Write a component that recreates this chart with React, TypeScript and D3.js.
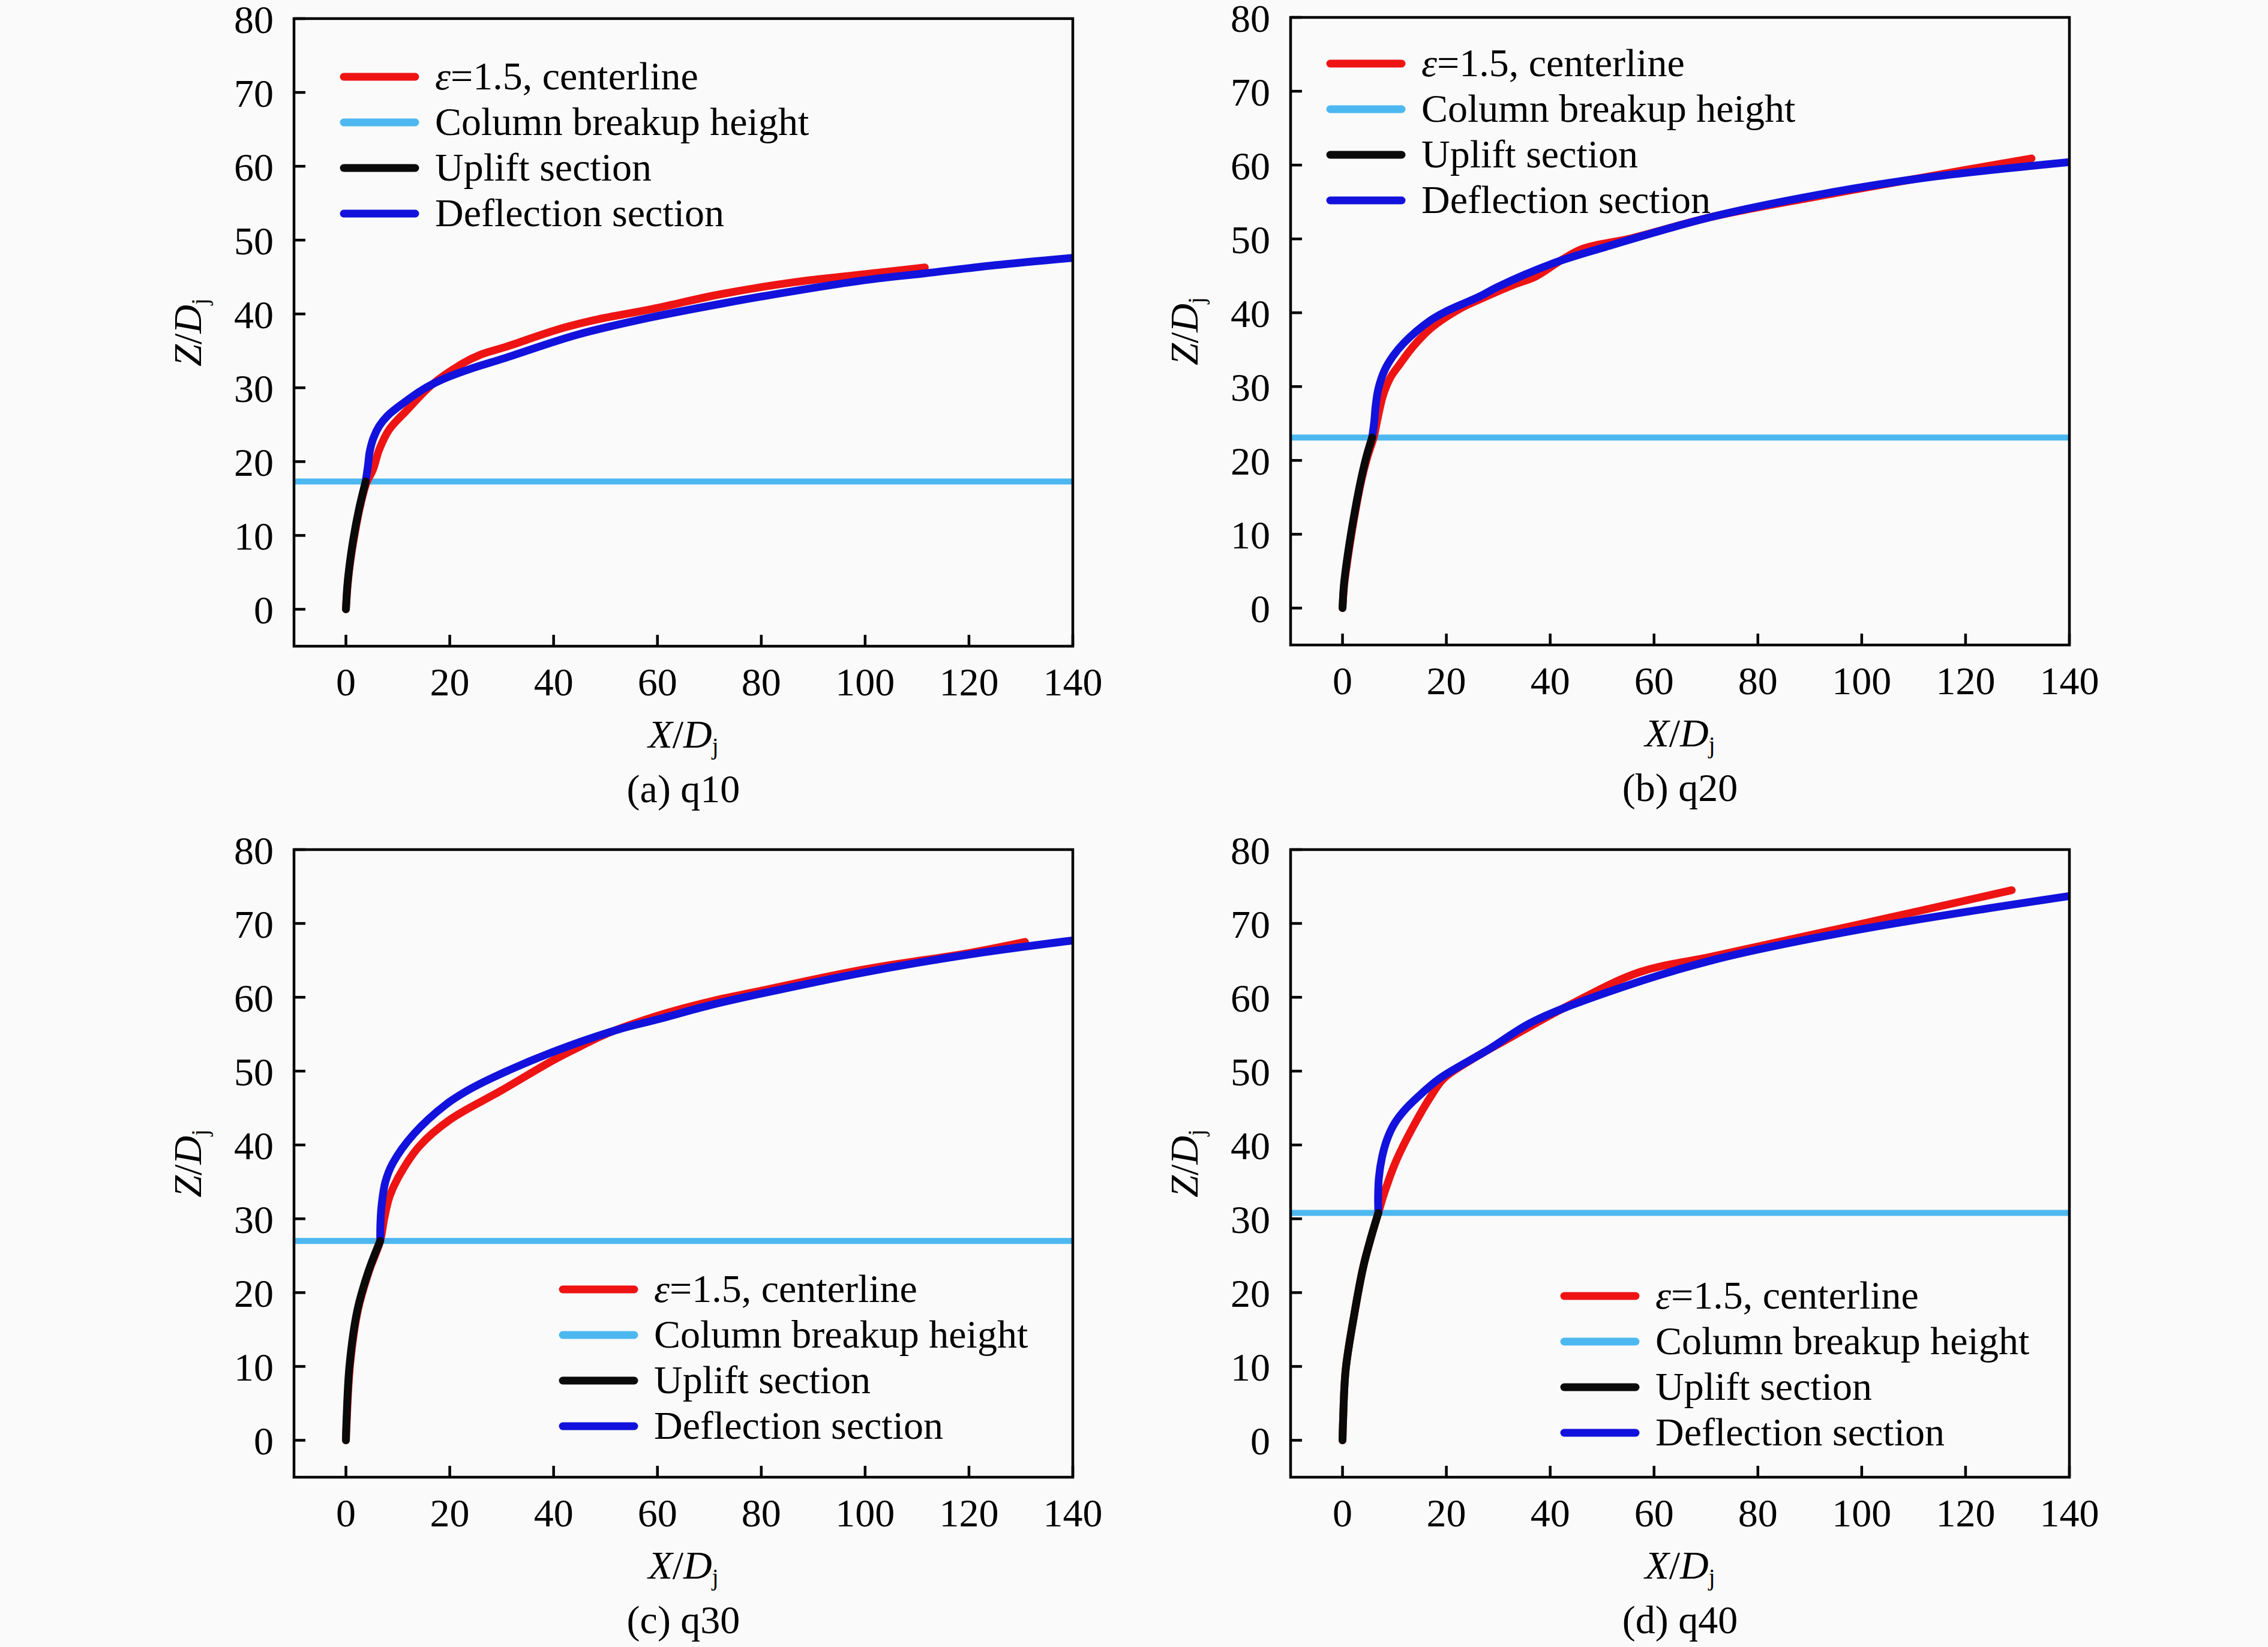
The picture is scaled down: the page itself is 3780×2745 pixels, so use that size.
import React, { useEffect } from 'react';
import * as d3 from 'd3';

// Axis ticks
const xTicks = [0, 20, 40, 60, 80, 100, 120, 140];
const yTicks = [0, 10, 20, 30, 40, 50, 60, 70, 80];

const captions = ['(a) q10', '(b) q20', '(c) q30', '(d) q40'];
const breakupHeights = [17.3, 23.1, 27.0, 30.8];

// q10 trajectories [X/Dj, Z/Dj]
const upliftQ10: [number, number][] = [
  [0, 0], [0.25, 3], [0.6, 5.4], [1.4, 9.4], [2.5, 13.5], [3.8, 17.3],
];
const centerlineQ10: [number, number][] = [
  [0, 0], [0.3, 3], [0.75, 6], [1.5, 9.4], [2.6, 13.5], [3.9, 17.0], [5.2, 18.9],
  [6.4, 21.6], [8.3, 24.3], [11.8, 27.0], [16.7, 30.5], [22.5, 33.3], [26, 34.5], [30.6, 35.5],
  [41.8, 38.1], [48.7, 39.3], [58.5, 40.6], [72.4, 42.7], [86.3, 44.3], [100.2, 45.4], [111.5, 46.3],
];
const deflectionQ10: [number, number][] = [
  [3.8, 17.3], [4.2, 19.2], [4.6, 21.4], [5.3, 23.2], [6.4, 24.8], [8.0, 26.2], [11, 27.9],
  [14.9, 29.8], [18.8, 31.2], [23.7, 32.5], [30.5, 34.0], [44.6, 37.2], [58.5, 39.5],
  [72.4, 41.4], [86.3, 43.1], [100.2, 44.6], [111.5, 45.5], [125, 46.6], [140, 47.6],
];

// q20
const upliftQ20: [number, number][] = [
  [0, 0], [0.25, 3], [0.8, 6.2], [2.0, 11.6], [3.5, 17.2], [4.6, 20.5], [5.7, 23.1],
];
const centerlineQ20: [number, number][] = [
  [0, 0], [0.3, 3], [0.9, 6.2], [2.1, 11.6], [3.6, 17.2], [4.8, 20.5], [6.0, 23.1],
  [6.8, 25.8], [7.8, 28.8], [9.2, 31.2], [11.0, 33.0], [13.7, 35.5], [17.2, 38.0], [22.5, 40.5],
  [26.4, 41.8], [33.0, 43.8], [37.2, 44.9], [42.3, 47.2], [46.4, 48.7], [55.7, 50.1],
  [71.2, 53.0], [91.8, 55.8], [112.4, 58.4], [132.7, 60.9],
];
const deflectionQ20: [number, number][] = [
  [5.7, 23.1], [6.1, 25.2], [6.4, 27.5], [6.9, 29.7], [8.1, 32.2], [9.8, 34.2], [11.8, 35.9],
  [16.8, 38.9], [20, 40.2], [26.4, 42.2], [29.9, 43.5], [40.2, 46.6], [50.6, 48.9],
  [71.2, 53.0], [91.8, 56.0], [112.4, 58.3], [140, 60.4],
];

// q30
const upliftQ30: [number, number][] = [
  [0, 0], [0.1, 2.5], [0.7, 10.2], [2.2, 17.6], [4.3, 22.8], [6.6, 27.0],
];
const centerlineQ30: [number, number][] = [
  [0, 0], [0.15, 2.5], [0.8, 10.2], [2.3, 17.6], [4.4, 22.8], [6.6, 27], [7.4, 30.1],
  [8.4, 33.0], [10.0, 35.5], [14.1, 39.8], [20, 43.4], [30, 47.4], [40, 51.5], [45, 53.3],
  [50, 55.0], [60, 57.5], [70, 59.4], [80, 60.9], [100, 63.8], [120, 66.0], [130.8, 67.5],
];
const deflectionQ30: [number, number][] = [
  [6.6, 27.0], [6.65, 29.5], [6.9, 32], [7.6, 35], [9.0, 37.5], [13.1, 41.5], [19.3, 45.5],
  [24, 47.6], [28.5, 49.2], [39.9, 52.6], [52.3, 55.6], [60, 57.0], [70, 58.9], [80, 60.5],
  [100, 63.4], [120, 65.8], [140, 67.7],
];

// q40
const upliftQ40: [number, number][] = [
  [0, 0], [0.1, 2.5], [0.6, 9.5], [2.2, 16.8], [4.0, 23.5], [5.5, 27.5], [6.9, 30.8],
];
const centerlineQ40: [number, number][] = [
  [0, 0], [0.1, 2.5], [0.6, 9.5], [2.2, 16.8], [4.0, 23.5], [5.5, 27.5], [6.9, 30.8],
  [8.0, 33.4], [10.3, 37.8], [13.7, 42.6], [17.2, 46.8], [19.5, 49.0], [25.2, 51.7],
  [32.2, 54.5], [43.3, 58.8], [57.2, 63.4], [71.1, 65.5], [99, 69.8], [128.9, 74.5],
];
const deflectionQ40: [number, number][] = [
  [6.9, 30.8], [6.85, 33], [7.0, 35.5], [7.6, 38.3], [8.6, 40.8], [10.0, 42.9], [11.8, 44.6],
  [14.5, 46.5], [18.7, 49.0], [28.3, 53.0], [36.4, 56.6], [50.3, 60.5], [71.1, 65.0],
  [99, 69.1], [140, 73.7],
];

const uplifts = [upliftQ10, upliftQ20, upliftQ30, upliftQ40];
const centerlines = [centerlineQ10, centerlineQ20, centerlineQ30, centerlineQ40];
const deflections = [deflectionQ10, deflectionQ20, deflectionQ30, deflectionQ40];

const COLORS = {
  centerline: '#ee1414',
  breakup: '#4db8f0',
  uplift: '#0a0a0a',
  deflection: '#1212dc',
  axis: '#000',
  bg: '#fafafa',
};

const W = 3780;
const H = 2745;
const PW = 1298;
const PH = 1046;
const FONT = '"Liberation Serif", "Times New Roman", serif';
const FS = 66;
const LW = 13;

// panel placement and legend offset (px)
const layout = [
  { left: 490, top: 31, lx: 77, ly: 97 },
  { left: 2151, top: 29, lx: 60, ly: 77 },
  { left: 490, top: 1416, lx: 442, ly: 733 },
  { left: 2151, top: 1416, lx: 450, ly: 744 },
];

const x = d3.scaleLinear().domain([-10, 140]).range([0, PW]);
const y = d3.scaleLinear().domain([-5, 80]).range([PH, 0]);
const line = d3
  .line<[number, number]>()
  .x((d) => x(d[0]))
  .y((d) => y(d[1]))
  .curve(d3.curveCatmullRom.alpha(0.5));

function Legend({ lx, ly }: { lx: number; ly: number }) {
  const rows = [
    { color: COLORS.centerline, label: <><tspan fontStyle="italic">ε</tspan>=1.5, centerline</> },
    { color: COLORS.breakup, label: <>Column breakup height</> },
    { color: COLORS.uplift, label: <>Uplift section</> },
    { color: COLORS.deflection, label: <>Deflection section</> },
  ];
  return (
    <g transform={`translate(${lx},${ly})`}>
      {rows.map((r, i) => (
        <g key={i} transform={`translate(0,${i * 76})`}>
          <line x1={6} x2={125} y1={0} y2={0} stroke={r.color} strokeWidth={LW} strokeLinecap="round" />
          <text x={158} y={21} fontSize={FS} fontFamily={FONT} fill="#000">
            {r.label}
          </text>
        </g>
      ))}
    </g>
  );
}

function Panel({ i }: { i: number }) {
  const { left, top, lx, ly } = layout[i];
  const clipId = `clip-${i}`;
  return (
    <g transform={`translate(${left},${top})`}>
      <defs>
        <clipPath id={clipId}>
          <rect x={0} y={0} width={PW} height={PH} />
        </clipPath>
      </defs>
      <g clipPath={`url(#${clipId})`}>
        <line
          x1={0}
          x2={PW}
          y1={y(breakupHeights[i])}
          y2={y(breakupHeights[i])}
          stroke={COLORS.breakup}
          strokeWidth={10}
        />
        <path d={line(centerlines[i]) || ''} fill="none" stroke={COLORS.centerline} strokeWidth={LW} strokeLinecap="round" strokeLinejoin="round" />
        <path d={line(deflections[i]) || ''} fill="none" stroke={COLORS.deflection} strokeWidth={LW} strokeLinecap="round" strokeLinejoin="round" />
        <path d={line(uplifts[i]) || ''} fill="none" stroke={COLORS.uplift} strokeWidth={LW} strokeLinecap="round" strokeLinejoin="round" />
      </g>
      <rect x={0} y={0} width={PW} height={PH} fill="none" stroke={COLORS.axis} strokeWidth={4.5} />
      {yTicks.map((t) => (
        <g key={`y${t}`}>
          <line x1={0} x2={19} y1={y(t)} y2={y(t)} stroke={COLORS.axis} strokeWidth={4.5} />
          <text x={-34} y={y(t) + 24} textAnchor="end" fontSize={FS} fontFamily={FONT}>
            {t}
          </text>
        </g>
      ))}
      {xTicks.map((t) => (
        <g key={`x${t}`}>
          <line x1={x(t)} x2={x(t)} y1={PH} y2={PH - 19} stroke={COLORS.axis} strokeWidth={4.5} />
          <text x={x(t)} y={PH + 82} textAnchor="middle" fontSize={FS} fontFamily={FONT}>
            {t}
          </text>
        </g>
      ))}
      <Legend lx={lx} ly={ly} />
      {/* axis titles */}
      <text x={PW / 2} y={PH + 169} textAnchor="middle" fontSize={FS} fontFamily={FONT}>
        <tspan fontStyle="italic">X</tspan>/<tspan fontStyle="italic">D</tspan>
        <tspan fontSize={39} dy={11}>j</tspan>
      </text>
      <text
        transform={`translate(-155,${PH / 2}) rotate(-90)`}
        textAnchor="middle"
        fontSize={FS}
        fontFamily={FONT}
      >
        <tspan fontStyle="italic">Z</tspan>/<tspan fontStyle="italic">D</tspan>
        <tspan fontSize={39} dy={11}>j</tspan>
      </text>
      <text x={PW / 2} y={PH + 260} textAnchor="middle" fontSize={FS} fontFamily={FONT}>
        {captions[i]}
      </text>
    </g>
  );
}

export default function App() {
  useEffect(() => {
    document.body.style.margin = '0';
  }, []);
  return (
    <svg width={W} height={H} viewBox={`0 0 ${W} ${H}`} style={{ display: 'block', background: COLORS.bg }}>
      {captions.map((_, i) => (
        <Panel key={i} i={i} />
      ))}
    </svg>
  );
}
